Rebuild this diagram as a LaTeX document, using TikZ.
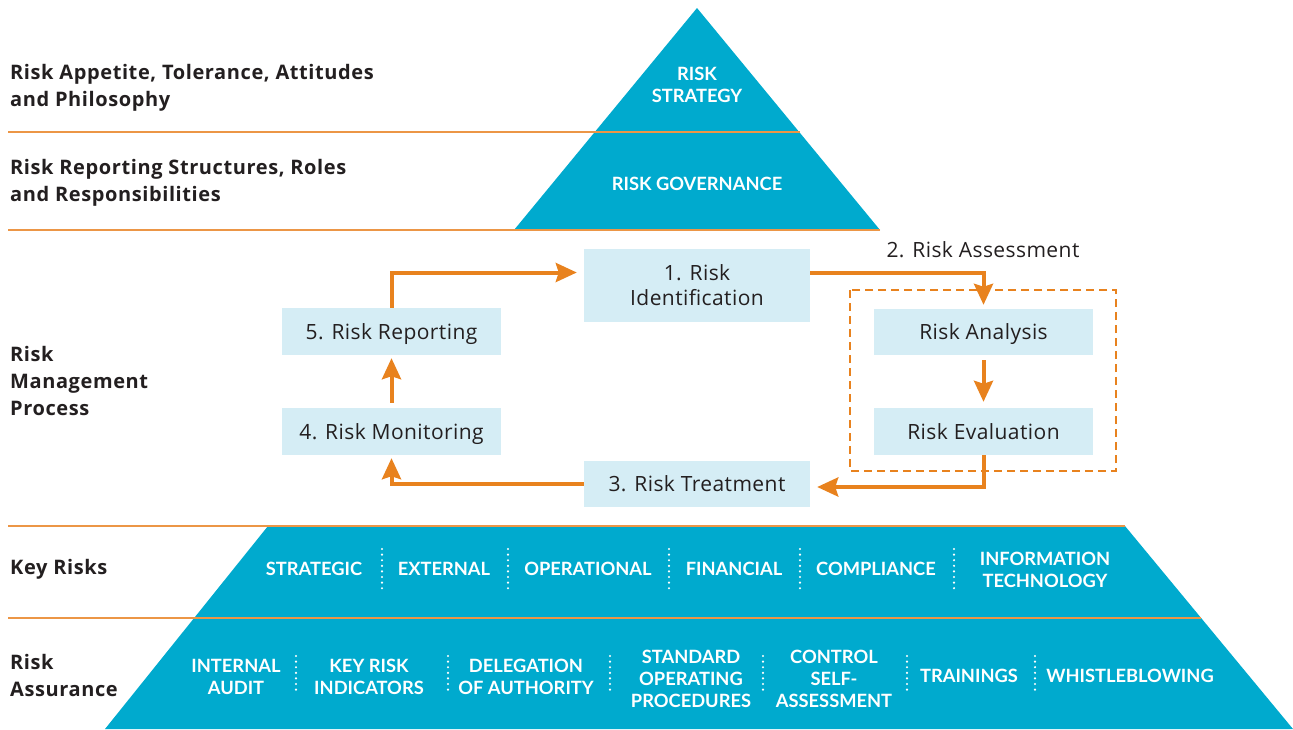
\documentclass[tikz,border=0pt]{standalone}
\usepackage{fontspec}
\setmainfont{Lato}
\newfontfamily\osans{Open Sans}
\newfontfamily\osanssp[LetterSpace=3]{Open Sans}
\newfontfamily\osansbox[LetterSpace=2]{Open Sans}
\usetikzlibrary{arrows.meta}
\definecolor{pblue}{RGB}{0,170,206}
\definecolor{pbox}{RGB}{213,237,245}
\definecolor{parr}{RGB}{232,130,30}
\definecolor{pline}{RGB}{236,150,70}
\definecolor{ptext}{RGB}{35,31,32}
\begin{document}
\begin{tikzpicture}[x=1pt,y=-1pt,
  sidelabel/.style={anchor=west,align=left,text=ptext,inner sep=0pt,font=\osanssp\bfseries\fontsize{20}{27}\selectfont},
  whitelabel/.style={align=center,text=white,inner sep=0pt,font=\bfseries\fontsize{18.3}{22}\selectfont},
  procbox/.style={fill=pbox,text=ptext,align=center,inner sep=0pt,text depth=0pt,font=\osansbox\fontsize{21}{25}\selectfont},
  arr/.style={draw=parr,line width=4pt,-{Stealth[length=21pt,width=19pt,inset=3pt]}},
  sepline/.style={draw=pline,line width=1.5pt},
  dotsep/.style={draw=white,line width=2.4pt,line cap=round,dash pattern=on 0pt off 5.6pt},
  dashbox/.style={draw=parr,line width=2.5pt,dash pattern=on 8pt off 5pt}
]
\useasboundingbox (0,0) rectangle (1293,729);
% pyramid shapes
\fill[pblue] (697,8) -- (880,230) -- (514,230) -- cycle;
\fill[pblue] (268,526) -- (1125,526) -- (1293,729) -- (105,729) -- cycle;
% separating lines
\draw[sepline] (8,132) -- (800,132);
\draw[sepline] (8,230) -- (880,230);
\draw[sepline] (8,526) -- (1125,526);
\draw[sepline] (8,618) -- (1201,618);
% side labels
\node[sidelabel] (l1) at (10,87.5) {Risk Appetite, Tolerance, Attitudes\\and Philosophy};
\node[sidelabel] (l2) at (10,182.5) {Risk Reporting Structures, Roles\\and Responsibilities};
\node[sidelabel] (l3) at (10,380.5) {Risk\\Management\\Process};
\node[sidelabel] (l4) at (10,569.5) {Key Risks};
\node[sidelabel] (l5) at (10,675.5) {Risk\\Assurance};
% top pyramid labels
\node[whitelabel] (strat) at (697,85) {RISK\\STRATEGY};
\node[whitelabel] (gov) at (697,184) {RISK GOVERNANCE};
% process boxes
\node[procbox,minimum width=226pt,minimum height=73pt] (id) at (697,285.5) {1. Risk\\Identification};
\node[procbox,minimum width=219pt,minimum height=47pt] (rep) at (391.5,331.5) {5. Risk Reporting};
\node[procbox,minimum width=219pt,minimum height=47pt] (mon) at (391.5,431.5) {4. Risk Monitoring};
\node[procbox,minimum width=226pt,minimum height=46pt] (treat) at (697,484) {3. Risk Treatment};
\node[procbox,minimum width=219pt,minimum height=46pt] (ana) at (983.5,332) {Risk Analysis};
\node[procbox,minimum width=219pt,minimum height=47pt] (eva) at (983.5,431.5) {Risk Evaluation};
\node[text=ptext,inner sep=0pt,font=\osansbox\fontsize{21}{25}\selectfont] (assess) at (983,250) {2. Risk Assessment};
\draw[dashbox] (850,290) rectangle (1116,471);
% arrows
\draw[arr,shorten >=4pt] ([yshift=13pt]id.east) -| (ana.north);
\draw[arr,shorten <=5pt,shorten >=6pt] (ana.south) -- (eva.north);
\draw[arr,shorten >=7pt] (eva.south) |- ([yshift=-3pt]treat.east);
\draw[arr,shorten >=3pt] (treat.west) -| (mon.south);
\draw[arr,shorten <=5pt,shorten >=3pt] (mon.north) -- (rep.south);
\draw[arr,shorten >=7pt] (rep.north) |- ([yshift=13pt]id.west);
% key risks
\node[whitelabel] (k1) at (314,569) {STRATEGIC};
\node[whitelabel] (k2) at (444,569) {EXTERNAL};
\node[whitelabel] (k3) at (588,569) {OPERATIONAL};
\node[whitelabel] (k4) at (734,569) {FINANCIAL};
\node[whitelabel] (k5) at (876,569) {COMPLIANCE};
\node[whitelabel] (k6) at (1045,570) {INFORMATION\\TECHNOLOGY};
\foreach \x in {382,508,669,800,954} \draw[dotsep] (\x,549) -- (\x,589);
% risk assurance
\node[whitelabel] (a1) at (236,677) {INTERNAL\\AUDIT};
\node[whitelabel] (a2) at (369,677) {KEY RISK\\INDICATORS};
\node[whitelabel] (a3) at (526,677) {DELEGATION\\OF AUTHORITY};
\node[whitelabel] (a4) at (691,679) {STANDARD\\OPERATING\\PROCEDURES};
\node[whitelabel] (a5) at (834,679) {CONTROL\\SELF-\\ASSESSMENT};
\node[whitelabel] (a6) at (969,676) {TRAININGS};
\node[whitelabel] (a7) at (1130,676) {WHISTLEBLOWING};
\foreach \x in {296,448,610,763,907,1035} \draw[dotsep] (\x,656) -- (\x,694);
\end{tikzpicture}
\end{document}
